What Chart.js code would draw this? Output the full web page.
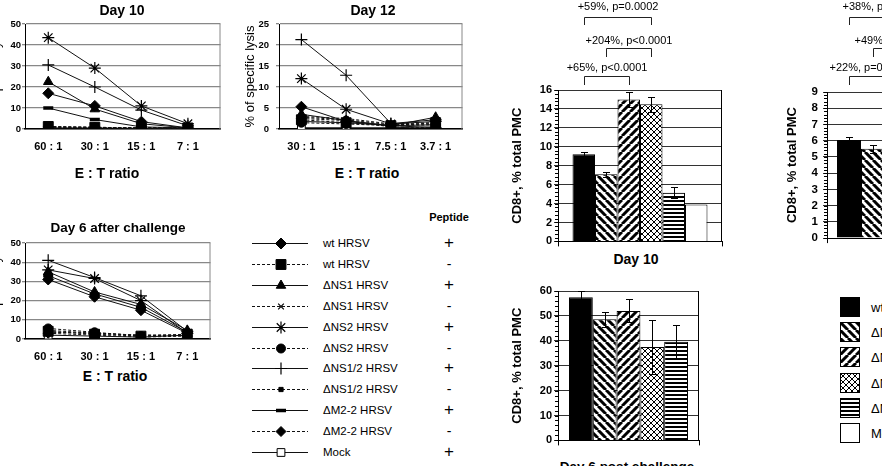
<!DOCTYPE html>
<html>
<head>
<meta charset="utf-8">
<script src="https://cdn.jsdelivr.net/npm/chart.js@4.4.1/dist/chart.umd.min.js"></script>
<style>
  html, body { margin: 0; padding: 0; background: #fff; }
  body { width: 882px; height: 466px; position: relative; overflow: hidden; font-family: "Liberation Sans", Arial, sans-serif; color: #000; }
  canvas { position: absolute; }
  .t { position: absolute; transform: translate(-50%, -50%); white-space: nowrap; }
  .l { position: absolute; transform: translateY(-50%); white-space: nowrap; }
  .b { font-weight: bold; }
</style>
</head>
<body>
<canvas id="day10" width="240" height="154" style="left:-11px;top:0px"></canvas>
<canvas id="day12" width="228" height="154" style="left:243px;top:0px"></canvas>
<canvas id="day6" width="230" height="145" style="left:-11px;top:219px"></canvas>
<canvas id="legendLines" width="64" height="240" style="left:248px;top:230px"></canvas>
<canvas id="bar10" width="213" height="250" style="left:510px;top:0px"></canvas>
<canvas id="bar6" width="190" height="179" style="left:510px;top:270px"></canvas>
<canvas id="barRight" width="111" height="250" style="left:785px;top:0px"></canvas>

<div class="t b" style="left:122px;top:10px;font-size:14px">Day 10</div>
<div class="t b" style="left:373px;top:10px;font-size:14px">Day 12</div>
<div class="t b" style="left:118px;top:227px;font-size:13.5px">Day 6 after challenge</div>
<div class="t b" style="left:107px;top:173px;font-size:14px">E : T ratio</div>
<div class="t b" style="left:367px;top:173px;font-size:14px">E : T ratio</div>
<div class="t b" style="left:115px;top:376px;font-size:14px">E : T ratio</div>
<div class="t b" style="left:449px;top:217px;font-size:11px">Peptide</div>
<div class="t b" style="left:636px;top:259px;font-size:14px">Day 10</div>
<div class="t b" style="left:627px;top:466px;font-size:13.5px">Day 6 post challenge</div>
<div id="legendText"></div>

<script>
Chart.defaults.font.family = '"Liberation Sans", Arial, sans-serif';
Chart.defaults.color = '#000';

// E:T ratio categories
const etCats10 = ['60 : 1', '30 : 1', '15 : 1', '7 : 1'];
const etCats12 = ['30 : 1', '15 : 1', '7.5 : 1', '3.7 : 1'];
const etCats6 = ['60 : 1', '30 : 1', '15 : 1', '7 : 1'];

// series (virus / peptide)
const lysisNames = ['wt HRSV', 'wt HRSV', 'ΔNS1 HRSV', 'ΔNS1 HRSV', 'ΔNS2 HRSV', 'ΔNS2 HRSV',
  'ΔNS1/2 HRSV', 'ΔNS1/2 HRSV', 'ΔM2-2 HRSV', 'ΔM2-2 HRSV', 'Mock'];
const peptide = ['+', '-', '+', '-', '+', '-', '+', '-', '+', '-', '+'];

// % specific lysis, Day 10
const wtPos10 = [17, 11, 3.5, 0.5];
const wtNeg10 = [1.2, 0.8, 0.5, 0.5];
const ns1Pos10 = [22.5, 9.5, 2.5, 0.5];
const ns1Neg10 = [1, 0.8, 0.5, 0.5];
const ns2Pos10 = [43.5, 29, 11, 2.5];
const ns2Neg10 = [1, 0.8, 0.5, 0.3];
const ns12Pos10 = [30.5, 20, 9, 1.5];
const ns12Neg10 = [0.8, 0.5, 0.3, 0.3];
const m22Pos10 = [10, 4.5, 1, 0.5];
const m22Neg10 = [1, 0.5, 0.5, 0.5];
const mock10 = [0.5, 0.5, 0.3, 0.3];

// % specific lysis, Day 12
const wtPos12 = [5.3, 1.8, 0.8, 0.3];
const wtNeg12 = [2.2, 1.5, 0.8, 1.5];
const ns1Pos12 = [3.5, 2, 0.8, 2.8];
const ns1Neg12 = [2.8, 2.2, 1, 1.2];
const ns2Pos12 = [12, 4.7, 1.2, 1.8];
const ns2Neg12 = [1.5, 1.2, 0.8, 1];
const ns12Pos12 = [21.3, 12.8, 1.3, 2.2];
const ns12Neg12 = [3, 2.5, 1.2, 1.5];
const m22Pos12 = [1.8, 1.5, 0.8, 1];
const m22Neg12 = [2.5, 2, 0.5, 0.3];
const mock12 = [0.3, 0.3, 0.3, 0.5];

// % specific lysis, Day 6 after challenge
const wtPos6 = [31, 22, 15, 3];
const wtNeg6 = [4, 2.5, 1.5, 2.5];
const ns1Pos6 = [35, 24.5, 18, 4.5];
const ns1Neg6 = [3.5, 3, 2, 2];
const ns2Pos6 = [36, 31.5, 20, 3];
const ns2Neg6 = [5.5, 3.5, 1.5, 2];
const ns12Pos6 = [41, 32, 22.5, 4];
const ns12Neg6 = [4.5, 3, 2, 2];
const m22Pos6 = [33, 23.5, 16.5, 3.5];
const m22Neg6 = [3, 2, 1, 1.5];
const mock6 = [2, 1.5, 1, 2];

// CD8+ % of total PMC
const groupNames = ['wt HRSV', 'ΔNS1 HRSV', 'ΔNS2 HRSV', 'ΔNS1/2 HRSV', 'ΔM2-2 HRSV', 'Mock'];
const cd8Day10 = [9.2, 7.1, 15.0, 14.5, 5.15, 3.9];
const errDay10 = [0.2, 0.25, 0.75, 0.8, 0.55, 0];
const cd8Day6 = [57.5, 48.7, 52, 37.5, 39.6];
const errDay6 = [2.7, 3, 4.6, 10.9, 6.9];
const cd8Right = [6.05, 5.5];
const errRight = [0.2, 0.25];

// marker / line look of each lysis series
const seriesStyle = [
  { pointStyle: 'rectRot', radius: 5.5 },
  { pointStyle: 'rect', radius: 7, dash: true },
  { pointStyle: 'triangle', radius: 5.5 },
  { pointStyle: 'crossRot', radius: 4, dash: true, bw: 1.2 },
  { pointStyle: 'star', radius: 6, bw: 1.2 },
  { pointStyle: 'circle', radius: 4.5, dash: true },
  { pointStyle: 'cross', radius: 6, bw: 1.2 },
  { pointStyle: 'rect', radius: 3, dash: true },
  { pointStyle: 'line', radius: 5, bw: 3.5 },
  { pointStyle: 'rectRot', radius: 5, dash: true },
  { pointStyle: 'rect', radius: 5.5, fill: '#fff' }
];

function pattern(kind) {
  const s = kind === 'horiz' ? 4 : kind === 'cross' ? 6 : 8;
  const c = document.createElement('canvas');
  c.width = s; c.height = s;
  const g = c.getContext('2d');
  g.fillStyle = '#fff';
  g.fillRect(0, 0, s, s);
  g.fillStyle = '#000';
  g.strokeStyle = '#000';
  if (kind === 'horiz') {
    g.fillRect(0, 0, s, 2);
  } else {
    g.lineWidth = kind === 'cross' ? 1 : 3;
    g.beginPath();
    for (let k = -1; k <= 1; k++) {
      if (kind !== 'fwd') { g.moveTo(k * s, 0); g.lineTo(k * s + s, s); }
      if (kind !== 'back') { g.moveTo(k * s + s, 0); g.lineTo(k * s, s); }
    }
    g.stroke();
  }
  return g.createPattern(c, 'repeat');
}
const fills = ['#000', pattern('back'), pattern('fwd'), pattern('cross'), pattern('horiz'), '#fff'];

// plugins
const frameEdge = {
  id: 'frameEdge',
  afterDraw(chart, args, opts) {
    const { ctx, chartArea: a } = chart;
    ctx.save();
    ctx.strokeStyle = opts.color || '#888';
    ctx.lineWidth = 1;
    ctx.beginPath();
    ctx.moveTo(a.right - 0.5, a.top);
    ctx.lineTo(a.right - 0.5, a.bottom);
    ctx.stroke();
    ctx.restore();
  }
};

const errorBars = {
  id: 'errorBars',
  afterDatasetsDraw(chart, args, opts) {
    const errs = opts.errs || [];
    const y = chart.scales.y, ctx = chart.ctx;
    ctx.save();
    ctx.strokeStyle = '#000';
    ctx.lineWidth = 1;
    chart.data.datasets.forEach((ds, i) => {
      const e = errs[i];
      if (!e) return;
      const bar = chart.getDatasetMeta(i).data[0];
      const v = ds.data[0];
      const x = Math.round(bar.x) + 0.5;
      const yt = Math.round(y.getPixelForValue(v + e)) + 0.5;
      const yb = Math.round(y.getPixelForValue(v - e)) + 0.5;
      ctx.beginPath();
      ctx.moveTo(x, yt); ctx.lineTo(x, yb);
      ctx.moveTo(x - 3.5, yt); ctx.lineTo(x + 3.5, yt);
      ctx.moveTo(x - 3.5, yb); ctx.lineTo(x + 3.5, yb);
      ctx.stroke();
    });
    ctx.restore();
  }
};

const labelY = [7, 41, 68];
const bracketTop = [17, 48, 76];
const bracketLeg = [25, 57, 85];
const brackets = {
  id: 'brackets',
  afterDraw(chart, args, opts) {
    const ctx = chart.ctx;
    ctx.save();
    ctx.strokeStyle = '#222';
    ctx.fillStyle = '#000';
    ctx.lineWidth = 1;
    ctx.font = '11px "Liberation Sans", Arial, sans-serif';
    ctx.textBaseline = 'middle';
    (opts.items || []).forEach(it => {
      const x1 = Math.round(chart.getDatasetMeta(it.from).data[0].x) + 0.5;
      const x2 = it.to == null ? chart.width + 5 : Math.round(chart.getDatasetMeta(it.to).data[0].x) + 0.5;
      const top = bracketTop[it.level] + 0.5, leg = bracketLeg[it.level];
      ctx.beginPath();
      ctx.moveTo(x1, leg); ctx.lineTo(x1, top); ctx.lineTo(x2, top);
      if (it.to != null) ctx.lineTo(x2, leg);
      ctx.stroke();
      if (it.dx == null) {
        ctx.textAlign = 'center';
        ctx.fillText(it.text, (x1 + x2) / 2, labelY[it.level]);
      } else {
        ctx.textAlign = 'left';
        ctx.fillText(it.text, x1 + it.dx, labelY[it.level]);
      }
    });
    ctx.restore();
  }
};

const minorTicks = {
  id: 'minorTicks',
  afterDraw(chart, args, opts) {
    const y = chart.scales.y, ctx = chart.ctx;
    ctx.save();
    ctx.strokeStyle = '#000';
    ctx.lineWidth = 1;
    ctx.beginPath();
    for (let v = 0; v <= y.max + 1e-9; v += opts.step) {
      const p = Math.round(y.getPixelForValue(v)) + 0.5;
      ctx.moveTo(y.right - 3, p);
      ctx.lineTo(y.right, p);
    }
    ctx.stroke();
    ctx.restore();
  }
};

function lineChart(id, cats, series, yMax, yStep, xMax, tickPad) {
  return new Chart(document.getElementById(id), {
    type: 'line',
    data: {
      datasets: series.map((vals, i) => {
        const st = seriesStyle[i];
        return {
          label: lysisNames[i] + ' ' + peptide[i],
          data: vals.map((v, j) => ({ x: j, y: v })),
          borderColor: '#111',
          borderWidth: 1,
          borderDash: st.dash ? [3, 2] : [],
          pointStyle: st.pointStyle,
          pointRadius: st.radius,
          pointBackgroundColor: st.fill || '#000',
          pointBorderColor: '#000',
          pointBorderWidth: st.bw || 1
        };
      })
    },
    options: {
      responsive: false,
      animation: false,
      events: [],
      layout: { padding: { top: 24, right: 1, left: 0, bottom: 0 } },
      plugins: { legend: { display: false }, tooltip: { enabled: false }, frameEdge: { color: '#888' } },
      scales: {
        x: {
          type: 'linear', min: -0.5, max: xMax,
          afterBuildTicks: s => { s.ticks = cats.map((c, i) => ({ value: i })); },
          afterFit: s => { s.height = 25; },
          grid: { display: false, drawTicks: false },
          border: { color: '#000', width: 1.5 },
          ticks: { callback: v => cats[v], font: { size: 11, weight: 'bold' }, padding: 11, maxRotation: 0, autoSkip: false }
        },
        y: {
          min: 0, max: yMax,
          ticks: { stepSize: yStep, font: { size: 9.5, weight: 'bold' }, padding: tickPad },
          afterFit: s => { s.width = 36; },
          grid: { color: '#888', lineWidth: 1.3, tickLength: 3 },
          border: { color: '#000' },
          title: { display: true, text: '% of specific lysis', font: { size: 13 }, padding: 0 }
        }
      }
    },
    plugins: [frameEdge]
  });
}

lineChart('day10', etCats10,
  [wtPos10, wtNeg10, ns1Pos10, ns1Neg10, ns2Pos10, ns2Neg10, ns12Pos10, ns12Neg10, m22Pos10, m22Neg10, mock10],
  50, 10, 3.7, 1);
lineChart('day12', etCats12,
  [wtPos12, wtNeg12, ns1Pos12, ns1Neg12, ns2Pos12, ns2Neg12, ns12Pos12, ns12Neg12, m22Pos12, m22Neg12, mock12],
  25, 5, 3.6, 7);
lineChart('day6', etCats6,
  [wtPos6, wtNeg6, ns1Pos6, ns1Neg6, ns2Pos6, ns2Neg6, ns12Pos6, ns12Neg6, m22Pos6, m22Neg6, mock6],
  50, 10, 3.5, 1);

function barChart(id, values, errs, yMax, yStep, opt) {
  return new Chart(document.getElementById(id), {
    type: 'bar',
    data: {
      labels: [''],
      datasets: values.map((v, i) => ({
        label: groupNames[i],
        data: [v],
        backgroundColor: fills[i],
        borderColor: '#000',
        borderWidth: 1,
        barPercentage: 1,
        categoryPercentage: opt.catPct
      }))
    },
    options: {
      responsive: false,
      animation: false,
      events: [],
      layout: { padding: { top: opt.padTop, right: 1, left: 0, bottom: 0 } },
      plugins: {
        legend: { display: false }, tooltip: { enabled: false },
        errorBars: { errs: errs },
        brackets: { items: opt.brackets || [] },
        minorTicks: { step: yStep / 5 },
        frameEdge: { color: '#000' }
      },
      scales: {
        x: {
          grid: { drawOnChartArea: false, tickLength: 5, color: '#000' },
          ticks: { display: false },
          border: { color: '#000' },
          afterFit: s => { s.height = 6; }
        },
        y: {
          min: 0, max: yMax,
          ticks: { stepSize: yStep, font: { size: opt.tickSize, weight: 'bold' }, padding: opt.tickPad },
          grid: { color: '#333', tickLength: 4 },
          border: { color: '#000' },
          title: { display: true, text: 'CD8+, % total PMC', font: { size: 13, weight: 'bold' }, padding: 0 },
          afterFit: s => { s.width = opt.axisW; }
        }
      }
    },
    plugins: [errorBars, brackets, minorTicks, frameEdge]
  });
}

barChart('bar10', cd8Day10, errDay10, 16, 2, {
  catPct: 0.823, padTop: 90, axisW: 48, tickSize: 11, tickPad: 2,
  brackets: [
    { from: 0, to: 3, level: 0, text: '+59%, p=0.0002' },
    { from: 1, to: 3, level: 1, text: '+204%, p<0.0001' },
    { from: 0, to: 2, level: 2, text: '+65%, p<0.0001' }
  ]
});
barChart('bar6', cd8Day6, errDay6, 60, 10, {
  catPct: 0.844, padTop: 21, axisW: 48, tickSize: 11, tickPad: 2
});
barChart('barRight', cd8Right, errRight, 9, 1, {
  catPct: 0.706, padTop: 92, axisW: 42, tickSize: 11.5, tickPad: 5,
  brackets: [
    { from: 0, to: null, level: 0, text: '+38%, p=0.0', dx: -7 },
    { from: 1, to: null, level: 1, text: '+49%, p=0.0', dx: -19 },
    { from: 0, to: null, level: 2, text: '+22%, p=0.0', dx: -20 }
  ]
});

// line legend (left) with peptide column
const legCanvas = document.getElementById('legendLines');
const lg = legCanvas.getContext('2d');
const legendHtml = [];
lysisNames.forEach((name, i) => {
  const st = seriesStyle[i];
  const yPage = 243 + i * 20.9;
  const y = Math.round(yPage - 230) + 0.5;
  lg.save();
  lg.strokeStyle = '#111';
  lg.lineWidth = 1;
  lg.setLineDash(st.dash ? [3, 2] : []);
  lg.beginPath();
  lg.moveTo(4, y); lg.lineTo(60, y);
  lg.stroke();
  lg.setLineDash([]);
  lg.fillStyle = st.fill || '#000';
  lg.strokeStyle = '#000';
  lg.lineWidth = st.bw || 1;
  Chart.helpers.drawPoint(lg, { pointStyle: st.pointStyle, radius: st.radius, rotation: 0, borderWidth: st.bw || 1 }, 33, y);
  lg.restore();
  legendHtml.push('<div class="l" style="left:323px;top:' + yPage + 'px;font-size:11.5px">' + name + '</div>');
  legendHtml.push('<div class="t" style="left:449px;top:' + yPage + 'px;font-size:' + (peptide[i] === '+' ? 17 : 14) + 'px">' + peptide[i] + '</div>');
});

// bar legend (right)
groupNames.forEach((name, i) => {
  const yPage = 307 + i * 25.2;
  const c = document.createElement('canvas');
  c.width = 20; c.height = 20;
  c.style.left = '840px';
  c.style.top = Math.round(yPage - 10) + 'px';
  const g = c.getContext('2d');
  g.fillStyle = fills[i];
  g.fillRect(0, 0, 20, 20);
  g.strokeStyle = '#000';
  g.lineWidth = 1;
  g.strokeRect(0.5, 0.5, 19, 19);
  document.body.appendChild(c);
  legendHtml.push('<div class="l" style="left:871px;top:' + yPage + 'px;font-size:13px">' + name + '</div>');
});
document.getElementById('legendText').innerHTML = legendHtml.join('');
</script>
</body>
</html>
